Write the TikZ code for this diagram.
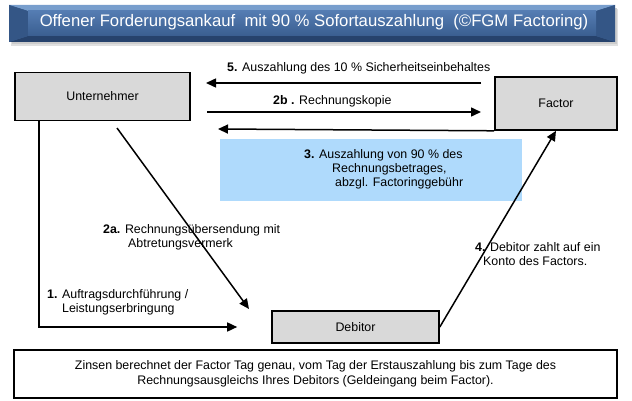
\documentclass[tikz,border=0pt]{standalone}
\usepackage{fontspec}
\setmainfont{Liberation Sans}
\usetikzlibrary{arrows.meta,calc}
\definecolor{boxgray}{RGB}{217,217,217}
\definecolor{lightblue}{RGB}{175,218,252}
\definecolor{bnmid}{RGB}{62,98,148}
\definecolor{bntop}{RGB}{120,158,205}
\definecolor{bnbot}{RGB}{38,66,108}
\definecolor{bnside}{RGB}{52,86,134}
\definecolor{bnin1}{RGB}{84,124,178}
\definecolor{bnin2}{RGB}{58,94,144}
\begin{document}
\begin{tikzpicture}[x=1pt,y=-1pt,
  lbl/.style={font=\fontsize{12.4}{14}\selectfont, inner sep=0pt, align=left},
  box/.style={draw=black, line width=1.6pt, fill=boxgray, font=\fontsize{12.4}{14}\selectfont, inner sep=0pt},
  arr/.style={line width=1.5pt, -{Triangle[length=10pt,width=9pt]}},
  plain/.style={line width=1.5pt}]
\useasboundingbox (0,0) rectangle (632,401);
\fill[white] (0,0) rectangle (632,401);
% title banner
\fill[black!12] (11,9) rectangle (618,46);
\fill[black!20] (12,8) rectangle (617,44);
\fill[bnmid] (9,5) rectangle (615,42);
\fill[bntop] (9,5) -- (615,5) -- (596,11) -- (28,11) -- cycle;
\fill[bnbot] (9,42) -- (615,42) -- (596,36) -- (28,36) -- cycle;
\fill[bnside] (9,5) -- (28,11) -- (28,36) -- (9,42) -- cycle;
\fill[bnside] (615,5) -- (596,11) -- (596,36) -- (615,42) -- cycle;
\shade[top color=bnin1, bottom color=bnin2] (28,11) rectangle (596,36);
\node[text=white, font=\fontsize{16.7}{18}\selectfont, inner sep=0pt] (T) at (314,22.5)
  {Offener Forderungsankauf\ \ mit 90 \% Sofortauszahlung\ \ (©FGM Factoring)};
% boxes
\node[box, minimum width=175pt, minimum height=48pt] (U) at (102.5,96.5) {Unternehmer};
\node[box, minimum width=122pt, minimum height=53pt] (F) at (556,103.5) {Factor};
\node[box, minimum width=167pt, minimum height=32pt] (D) at (355.5,327) {Debitor};
\node[fill=lightblue, minimum width=302pt, minimum height=62pt, inner sep=0pt] (B) at (371,170) {};
\node[lbl, anchor=west] (Btxt) at (304,169.5)
  {\textbf{3.} Auszahlung von 90 \% des\\\hspace*{28pt}Rechnungsbetrages,\\\hspace*{31pt}abzgl. Factoringgebühr};
\node[draw=black, line width=1.6pt, minimum width=603pt, minimum height=48pt, inner sep=0pt,
  font=\fontsize{12.4}{14.5}\selectfont, align=center] (N) at (315.5,374)
  {Zinsen berechnet der Factor Tag genau, vom Tag der Erstauszahlung bis zum Tage des\\
   Rechnungsausgleichs Ihres Debitors (Geldeingang beim Factor).};
% connector end points
\coordinate (p5a) at (481,83);
\coordinate (p5b) at (206,83);
\coordinate (p2ba) at (207,112);
\coordinate (p2bb) at (481,112);
\coordinate (p3b) at (218,129);
\coordinate (p1a) at (39,121);
\coordinate (p1c) at (39,327);
\coordinate (p1b) at ($(D.west)+(-34,0)$);
\coordinate (p2aa) at (117,128);
\coordinate (p2ab) at (249,309);
% connectors
\draw[arr] (p5a) -- (p5b);
\draw[arr] (p2ba) -- (p2bb);
\draw[arr] (F.south west) -- (p3b);
\draw[arr] (p1a) -- (p1c) -- (p1b);
\draw[arr] (p2aa) -- (p2ab);
\draw[arr] (D.east) -- (F.south);
% labels
\node[lbl, anchor=west] (L5) at (227,68) {\textbf{5.} Auszahlung des 10 \% Sicherheitseinbehaltes};
\node[lbl, anchor=west] (L2b) at (273,101) {\textbf{2b .} Rechnungskopie};
\node[lbl, anchor=west] (L2a) at (103,237) {\textbf{2a.} Rechnungsübersendung mit\\\hspace*{25pt}Abtretungsvermerk};
\node[lbl, anchor=west] (L1) at (47,302) {\textbf{1.} Auftragsdurchführung /\\\hspace*{15pt}Leistungserbringung};
\node[lbl, anchor=west] (L4) at (475,254.5) {\textbf{4.} Debitor zahlt auf ein\\\hspace*{8pt}Konto des Factors.};
\end{tikzpicture}
\end{document}
